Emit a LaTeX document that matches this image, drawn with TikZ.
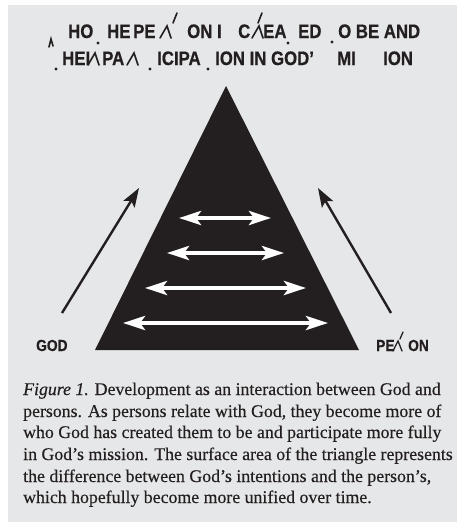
\documentclass[tikz,border=0pt]{standalone}
\usepackage{fontspec}
\usetikzlibrary{arrows.meta}
\newfontfamily\headfont[FakeStretch=0.86,FakeBold=0.6]{Liberation Sans}
\newfontfamily\capfont[FakeBold=0.35]{Liberation Serif}
\definecolor{bgray}{HTML}{E6E7E8}
\definecolor{ink}{HTML}{231F20}
\begin{document}
\begin{tikzpicture}[x=1pt,y=-1pt,
  head/.style={anchor=base west,inner sep=0pt,text=ink,font=\headfont\bfseries\fontsize{19.5}{19.5}\selectfont},
  lab/.style={anchor=base west,inner sep=0pt,text=ink,font=\headfont\bfseries\fontsize{16}{16}\selectfont},
  capline/.style={anchor=base west,inner sep=0pt,text=ink,font=\capfont\fontsize{17.8}{17.8}\selectfont},
  blackarrow/.style={draw=ink,line width=2.4pt,-{Stealth[length=19pt,width=13pt,inset=4pt]}},
  whitearrow/.style={draw=white,line width=4pt,{Stealth[length=22pt,width=14pt,inset=5pt]}-{Stealth[length=22pt,width=14pt,inset=5pt]}},
  frag/.style={draw=ink,line width=1.6pt,line cap=round},
  fragdot/.style={fill=ink}]
\useasboundingbox (0,0) rectangle (457,522);
\fill[white] (0,0) rectangle (457,522);
\fill[bgray] (8,5) rectangle (457,522);

% title, line 1
\node[head] (t1a) at (68,38) {HO};
\node[head] (t1b) at (107,38) {HE};
\node[head] (t1c) at (133,38) {PE};
\node[head] (t1d) at (187,38) {ON I};
\node[head] (t1e) at (238,38) {C};
\node[head] (t1f) at (263,38) {EA};
\node[head] (t1g) at (298,38) {ED};
\node[head] (t1h) at (338,38) {O BE AND};
% title, line 2
\node[head] (t2a) at (62,65) {HEI};
\node[head] (t2b) at (102,65) {PA};
\node[head] (t2c) at (157,65) {ICIPA};
\node[head] (t2d) at (215,65) {ION IN GOD’};
\node[head] (t2e) at (337,65) {MI};
\node[head] (t2f) at (383,65) {ION};

% glyph fragments
\path[frag] (160,38) -- (167,26) -- (171,38);
\path[frag] (173,23) -- (177,13);
\path[frag] (252,38) -- (259,26) -- (263,38);
\path[frag] (258,23) -- (262,13);
\path[frag] (88,65) -- (95,53) -- (99,65);
\path[frag] (127,65) -- (134,53) -- (138,65);
\path[frag] (49,47) -- (51,39) -- (53,46);
\fill[fragdot] (98,43) circle (1.7);
\fill[fragdot] (288,43) circle (1.7);
\fill[fragdot] (332,42) circle (1.7);
\fill[fragdot] (56,69) circle (1.7);
\fill[fragdot] (150,69) circle (1.7);
\fill[fragdot] (208,69) circle (1.7);

% triangle
\coordinate (apex) at (226,86);
\coordinate (bl) at (95,350);
\coordinate (br) at (359,350);
\fill[ink] (apex) -- (br) -- (bl) -- cycle;

% white double arrows
\coordinate (w1l) at (179,218); \coordinate (w1r) at (271,218);
\coordinate (w2l) at (167,253); \coordinate (w2r) at (284,253);
\coordinate (w3l) at (145,288); \coordinate (w3r) at (306,288);
\coordinate (w4l) at (123,323); \coordinate (w4r) at (328,323);
\draw[whitearrow] (w1l) -- (w1r);
\draw[whitearrow] (w2l) -- (w2r);
\draw[whitearrow] (w3l) -- (w3r);
\draw[whitearrow] (w4l) -- (w4r);

% side arrows
\coordinate (ltail) at (62,313); \coordinate (ltip) at (139,188);
\coordinate (rtail) at (391,313); \coordinate (rtip) at (318,188);
\draw[blackarrow] (ltail) -- (ltip);
\draw[blackarrow] (rtail) -- (rtip);

% labels
\node[lab] (god) at (36,351) {GOD};
\node[lab] (pe) at (376,351) {PE};
\node[lab] (on) at (408,351) {ON};
\path[frag,line width=1.3pt] (393,351) -- (398,341) -- (402,351);
\path[frag,line width=1.3pt] (400,339) -- (403,332);

% caption
\node[capline] (c1) at (23,395) {\textit{Figure 1.} Development as an interaction between God and};
\node[capline] (c2) at (23,417) {persons. As persons relate with God, they become more of};
\node[capline] (c3) at (23,438) {who God has created them to be and participate more fully};
\node[capline] (c4) at (23,460) {in God’s mission. The surface area of the triangle represents};
\node[capline] (c5) at (23,482) {the difference between God’s intentions and the person’s,};
\node[capline] (c6) at (23,503) {which hopefully become more unified over time.};
\end{tikzpicture}
\end{document}
